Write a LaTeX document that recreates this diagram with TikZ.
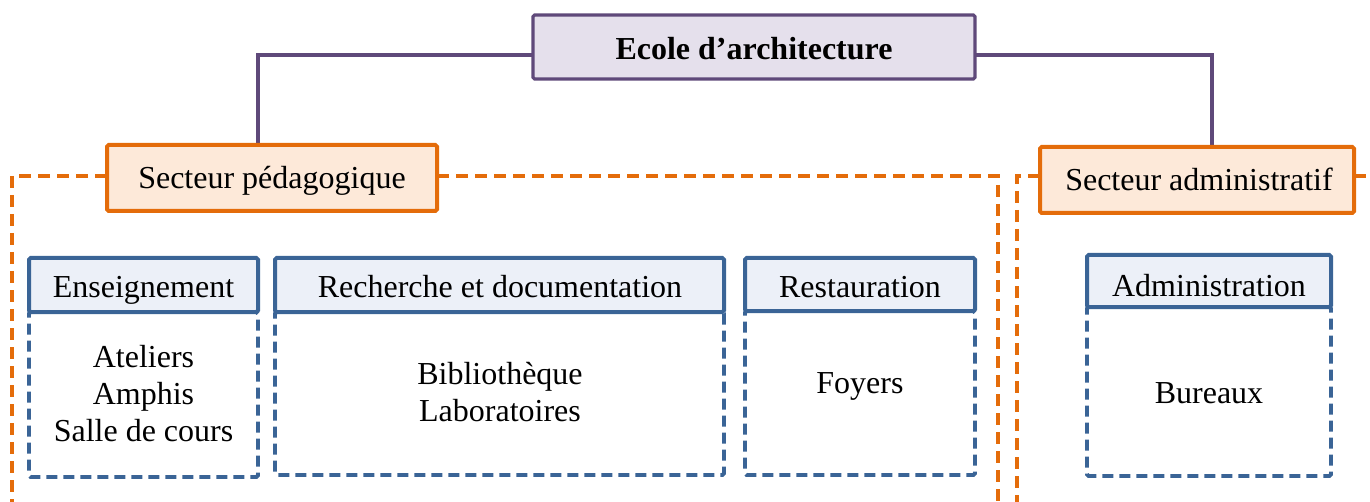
\documentclass[tikz,border=0pt]{standalone}
\usepackage{fontspec}
\setmainfont{Liberation Serif}
\usetikzlibrary{fit,backgrounds}
\definecolor{purp}{HTML}{5F497A}
\definecolor{purpfill}{HTML}{E5E0EC}
\definecolor{orng}{HTML}{E46C0A}
\definecolor{orngfill}{HTML}{FDE9D9}
\definecolor{blu}{HTML}{3A6496}
\definecolor{blufill}{HTML}{ECF0F8}
\begin{document}
\begin{tikzpicture}[x=0.5pt,y=-0.5pt,
  box/.style={inner sep=0pt, outer sep=0pt},
  topbox/.style={box, draw=purp, fill=purpfill, line width=1.6pt, rounded corners=0.8pt},
  secbox/.style={box, draw=orng, fill=orngfill, line width=2pt, rounded corners=0.8pt},
  hdrbox/.style={box, draw=blu, fill=blufill, line width=2pt, rounded corners=0.8pt},
  bodybox/.style={box, draw=blu, line width=1.9pt, dash pattern=on 5.5pt off 3pt, rounded corners=0.8pt},
  frame/.style={draw=orng, line width=1.9pt, dash pattern=on 6pt off 3.5pt},
  link/.style={draw=purp, line width=1.6pt},
  lbl/.style={inner sep=0pt, font=\fontsize{16}{18.5}\selectfont},
  lblb/.style={inner sep=0pt, font=\fontsize{16}{18.5}\selectfont\bfseries},
  ]
\useasboundingbox (0,0) rectangle (1370,502);
\clip (0,0) rectangle (1370,502);

% main boxes
\node[topbox, fit={(533,15) (975,79)}] (ecole) {};
\node[secbox, fit={(107,145) (437,211)}] (sp) {};
\node[secbox, fit={(1040,147) (1354,213)}] (sa) {};

% free ends of the dashed frames
\coordinate (fl) at (12,530);
\coordinate (fr) at (998,530);
\coordinate (gl) at (1017,530);
\coordinate (gr) at (1400,176);

\begin{scope}[on background layer]
  \draw[link] ([yshift=-4pt]ecole.west) -| ([xshift=-7pt]sp.north);
  \draw[link] ([yshift=-4pt]ecole.east) -| ([xshift=7.5pt]sa.north);
  \draw[frame] ([yshift=1pt]sp.west) -| (fl);
  \draw[frame] ([yshift=1pt]sp.east) -| (fr);
  \draw[frame] ([yshift=2pt]sa.west) -| (gl);
  \draw[frame] ([yshift=2pt]sa.east) -- (gr);
\end{scope}

% blue boxes: bodies then headers
\node[bodybox, fit={(29,312) (258,477)}] (ensB) {};
\node[hdrbox, fit={(29,258) (258,312)}] (ensH) {};
\node[bodybox, fit={(275,312) (724,475)}] (rechB) {};
\node[hdrbox, fit={(275,258) (724,312)}] (rechH) {};
\node[bodybox, fit={(745,311) (975,475)}] (restB) {};
\node[hdrbox, fit={(745,258) (975,311)}] (restH) {};
\node[bodybox, fit={(1087,307) (1331,476)}] (admB) {};
\node[hdrbox, fit={(1087,255) (1331,307)}] (admH) {};

% labels
\node[lblb, anchor=base] (tEcole) at (754,60) {Ecole d’architecture};
\node[lbl, anchor=base] (tSp) at (272,189) {Secteur pédagogique};
\node[lbl, anchor=base] (tSa) at (1199,191) {Secteur administratif};
\node[lbl, anchor=base] (tEnsH) at (143.5,298) {Enseignement};
\node[lbl, anchor=base] (tRechH) at (500,298) {Recherche et documentation};
\node[lbl, anchor=base] (tRestH) at (860,298) {Restauration};
\node[lbl, anchor=base] (tAdmH) at (1209,296) {Administration};
\node[lbl, align=center] (tEns) at (143.5,394) {Ateliers\\Amphis\\Salle de cours};
\node[lbl, align=center] (tRech) at (500,392) {Bibliothèque\\Laboratoires};
\node[lbl, anchor=base] (tRest) at (860,393) {Foyers};
\node[lbl, anchor=base] (tAdm) at (1209,403) {Bureaux};
\end{tikzpicture}
\end{document}
